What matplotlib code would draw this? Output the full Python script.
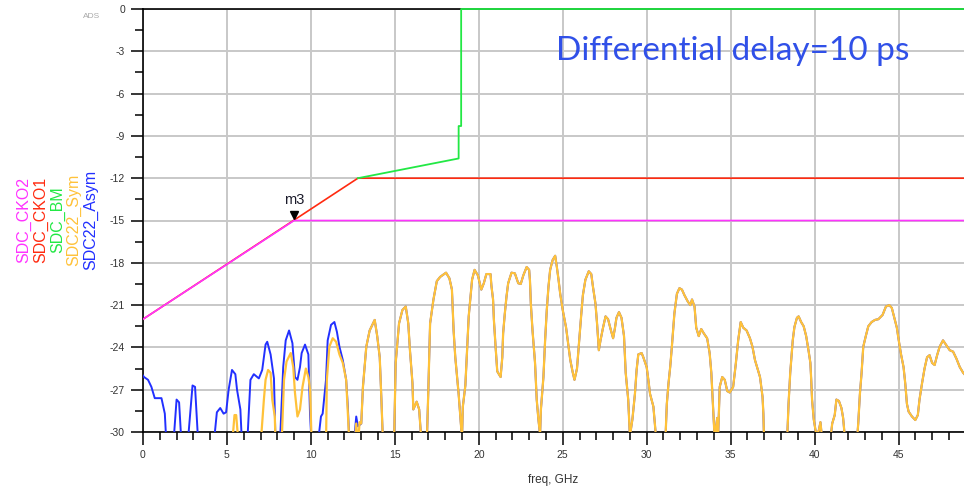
import matplotlib
matplotlib.use("Agg")
import matplotlib.pyplot as plt
import matplotlib.transforms as mtransforms
from matplotlib.ticker import MultipleLocator

plt.rcParams['axes.unicode_minus'] = False

# SDC22_Asym below 13 GHz (dB), values under -30 are clipped by the axis
asym_f_lo = [0.0, 0.06, 0.3, 0.5, 0.7, 1.1, 1.3, 1.4, 1.8, 2.0, 2.15, 2.3, 2.65, 2.95, 3.1, 3.3,
             4.2, 4.4, 4.6, 4.8, 4.95, 5.1, 5.3, 5.5, 5.6, 5.8, 5.9, 6.2, 6.4, 6.6, 6.9, 7.1,
             7.3, 7.4, 7.6, 7.8, 7.9, 8.15, 8.35, 8.5, 8.7, 8.9, 9.05, 9.2, 9.35, 9.45, 9.65,
             9.85, 9.95, 10.05, 10.4, 10.6, 10.7, 10.9, 11.0, 11.2, 11.4, 11.55, 11.7, 11.9,
             12.1, 12.2, 12.3, 12.55, 12.7, 12.8]
asym_db_lo = [-26.0, -26.1, -26.3, -26.8, -27.6, -27.6, -28.7, -31, -31, -27.7, -27.9, -31, -31,
              -26.7, -26.8, -31, -31, -28.6, -28.3, -28.7, -28.6, -27.0, -25.6, -25.9, -27.0,
              -28.4, -31, -31, -26.3, -25.9, -26.2, -25.6, -23.8, -23.6, -24.5, -26.2, -31, -31,
              -25.4, -23.5, -22.8, -23.7, -26.1, -26.3, -25.4, -24.4, -23.8, -24.5, -28.8, -31,
              -31, -28.9, -28.7, -26.3, -23.5, -22.4, -22.2, -22.9, -23.95, -24.9, -26.3, -28.2,
              -31, -31, -28.9, -29.6]

# SDC22_Sym below 13 GHz
sym_f_lo = [0.0, 5.3, 5.45, 5.55, 5.7, 7.0, 7.2, 7.3, 7.45, 7.6, 7.7, 7.85, 7.9, 8.25, 8.4, 8.55,
            8.8, 8.95, 9.05, 9.2, 9.35, 9.5, 9.7, 9.85, 9.95, 10.05, 10.9, 10.95, 11.1, 11.3,
            11.5, 11.7, 11.9, 12.1, 12.3, 12.6, 12.7, 12.8, 12.9]
sym_db_lo = [-31, -31, -28.8, -28.8, -31, -31, -27.7, -26.3, -25.6, -25.8, -27.7, -28.9, -31, -31,
             -26.3, -25.0, -24.4, -25.4, -27.2, -28.9, -28.4, -26.8, -25.5, -26.1, -27.0, -31,
             -31, -26.3, -23.95, -23.35, -23.6, -24.5, -25.1, -26.3, -31, -31, -29.4, -31, -29.3]

# above 13 GHz both traces coincide
common_f = [13.0, 13.1, 13.3, 13.5, 13.8, 13.95, 14.1, 14.2, 14.3, 14.95, 15.05, 15.25, 15.45,
            15.65, 15.8, 15.9, 16.05, 16.1, 16.3, 16.45, 16.6, 16.9, 17.0, 17.1, 17.3, 17.5, 17.7,
            18.05, 18.25, 18.4, 18.5, 18.6, 18.8, 18.9, 19.0, 19.05, 19.2, 19.4, 19.6, 19.75,
            19.95, 20.15, 20.3, 20.45, 20.7, 20.75, 20.85, 20.9, 21.0, 21.1, 21.3, 21.4, 21.45,
            21.55, 21.65, 21.75, 21.95, 22.15, 22.35, 22.5, 22.65, 22.85, 23.0, 23.05, 23.1, 23.2,
            23.35, 23.45, 23.55, 23.65, 23.7, 23.85, 23.95, 24.05, 24.15, 24.25, 24.4, 24.55,
            24.65, 24.75, 24.85, 25.0, 25.2, 25.3, 25.45, 25.6, 25.7, 25.85, 26.0, 26.1, 26.2,
            26.35, 26.55, 26.7, 26.8, 26.95, 27.05, 27.15, 27.25, 27.4, 27.55, 27.7, 27.85, 28.0,
            28.1, 28.2, 28.35, 28.5, 28.65, 28.75, 28.9, 29.0, 29.15, 29.3, 29.4, 29.5, 29.7,
            29.8, 30.0, 30.1, 30.2, 30.4, 30.6, 31.1, 31.2, 31.3, 31.4, 31.5, 31.65, 31.8, 31.95,
            32.1, 32.25, 32.45, 32.6, 32.7, 32.85, 32.95, 33.1, 33.25, 33.4, 33.6, 33.75, 33.85,
            33.95, 34.05, 34.2, 34.25, 34.35, 34.5, 34.65, 34.8, 34.95, 35.15, 35.3, 35.45, 35.6,
            35.75, 35.95, 36.15, 36.3, 36.45, 36.6, 36.75, 36.9, 36.95, 37.0, 38.35, 38.45, 38.55,
            38.7, 38.8, 38.95, 39.05, 39.2, 39.35, 39.5, 39.65, 39.75, 39.8, 39.85, 39.95, 40.1,
            40.25, 40.35, 40.45, 40.9, 41.05, 41.2, 41.3, 41.45, 41.6, 41.7, 41.85, 42.5, 42.6,
            42.7, 42.8, 42.9, 43.05, 43.2, 43.4, 43.6, 43.8, 44.05, 44.25, 44.45, 44.6, 44.75,
            44.9, 45.0, 45.15, 45.3, 45.4, 45.5, 45.6, 45.8, 46.0, 46.15, 46.25, 46.4, 46.55,
            46.7, 46.85, 47.0, 47.15, 47.3, 47.45, 47.65, 47.85, 48.05, 48.25, 48.45, 48.65,
            48.85, 49.0]
common_db = [-29.4, -26.8, -23.95, -22.8, -22.05, -23.2, -24.7, -27.7, -31, -31, -25.1, -22.3,
             -21.35, -21.1, -22.3, -24.2, -26.55, -28.4, -27.85, -28.4, -31, -31, -26.8, -22.3,
             -20.6, -19.3, -19.0, -18.7, -19.1, -19.9, -22.8, -24.7, -27.3, -28.9, -30.5, -28.2,
             -26.7, -21.8, -19.2, -18.5, -18.9, -19.9, -19.45, -18.8, -18.8, -19.6, -20.6, -22.05,
             -23.95, -25.7, -26.1, -24.7, -23.0, -21.6, -20.4, -19.45, -18.7, -18.75, -19.45,
             -19.5, -18.9, -18.3, -18.5, -19.3, -20.9, -22.8, -25.1, -27.7, -29.1, -30.2, -28.4,
             -26.1, -23.5, -21.35, -19.7, -18.5, -17.8, -17.5, -18.3, -19.2, -20.2, -21.35, -22.6,
             -23.5, -24.9, -25.8, -26.3, -25.5, -23.2, -21.7, -20.3, -19.2, -18.6, -18.8, -19.7,
             -20.9, -22.4, -24.2, -23.5, -22.6, -21.8, -22.0, -22.7, -23.35, -22.7, -21.9, -21.5,
             -21.9, -23.2, -25.8, -27.7, -30.3, -29.1, -27.3, -25.6, -24.5, -24.4, -24.7, -25.4,
             -26.3, -27.3, -28.2, -31, -31, -28.0, -26.55, -25.4, -23.95, -21.6, -20.2, -19.8,
             -19.9, -20.3, -20.75, -21.0, -20.6, -21.1, -22.6, -23.2, -22.7, -23.0, -23.35, -24.4,
             -25.8, -28.2, -30.5, -29.0, -30.5, -26.8, -26.1, -26.3, -27.1, -27.2, -26.8, -25.25,
             -23.5, -22.2, -22.6, -22.8, -23.35, -23.95, -24.9, -25.5, -26.1, -27.5, -28.7, -31,
             -31, -28.0, -25.8, -23.5, -22.55, -21.9, -21.8, -22.2, -22.5, -23.2, -24.3, -25.1,
             -26.3, -27.7, -29.1, -30.2, -29.9, -29.3, -30.5, -31, -29.4, -28.8, -27.7, -27.8,
             -28.3, -29.0, -31, -31, -29.4, -27.3, -25.8, -23.95, -23.2, -22.5, -22.2, -22.05,
             -22.0, -21.7, -21.1, -21.0, -21.2, -21.9, -22.6, -23.4, -24.5, -25.4, -26.55, -28.0,
             -28.55, -28.9, -29.15, -28.8, -27.7, -26.55, -25.5, -24.7, -24.55, -25.1, -25.25,
             -24.55, -23.95, -23.5, -23.85, -24.2, -24.3, -24.8, -25.4, -25.8, -26.0]

cko2_f = [0.0, 9.0, 49.0]
cko2_db = [-22.0, -15.0, -15.0]
cko1_f = [0.0, 12.8, 49.0]
cko1_db = [-22.0, -12.0, -12.0]
bm_f = [12.8, 18.8, 18.8, 18.95, 18.95, 49.0]
bm_db = [-12.0, -10.6, -8.3, -8.3, 0.0, 0.0]

m3_f, m3_db = 9.0, -15.0

c_cko2 = '#ff33ff'
c_cko1 = '#ff2a10'
c_bm = '#22e844'
c_sym = '#ffc23a'
c_asym = '#2230ff'
lbl_font = ['Liberation Sans Narrow', 'Liberation Sans', 'DejaVu Sans']

fig = plt.figure(figsize=(9.64, 4.87), dpi=100)
ax = fig.add_axes([143 / 964, 55 / 487, 821 / 964, 423 / 487])

ax.plot(asym_f_lo + common_f, asym_db_lo + common_db, color=c_asym, lw=1.4, zorder=3)
ax.plot(sym_f_lo + common_f, sym_db_lo + common_db, color=c_sym, lw=1.6, zorder=4)
ax.plot(cko1_f, cko1_db, color=c_cko1, lw=1.2, zorder=5)
ax.plot(cko2_f, cko2_db, color=c_cko2, lw=1.2, zorder=6)
ax.plot(bm_f, bm_db, color=c_bm, lw=1.3, zorder=5, clip_on=False)

# marker m3
mk_trans = mtransforms.offset_copy(ax.transData, fig=fig, x=0, y=4, units='points')
ax.plot([m3_f], [m3_db], marker='v', color='black', markersize=6, transform=mk_trans,
        zorder=7, clip_on=False)
ax.annotate('m3', (m3_f, m3_db), xytext=(0, 10), textcoords='offset points', ha='center',
            va='bottom', fontsize=10.5, color='#1a1a2a', family=lbl_font)

ax.set_xlim(0, 48.9)
ax.set_ylim(-30, 0)
ax.xaxis.set_major_locator(MultipleLocator(5))
ax.xaxis.set_minor_locator(MultipleLocator(1))
ax.yaxis.set_major_locator(MultipleLocator(3))
ax.yaxis.set_minor_locator(MultipleLocator(1.5))
ax.grid(True, which='major', color='#c8c8c8', lw=1.4)
ax.set_axisbelow(True)

for side in ['left', 'bottom', 'top']:
    ax.spines[side].set_color('black')
    ax.spines[side].set_linewidth(1.2)
ax.spines['right'].set_visible(False)
ax.tick_params(which='major', direction='out', length=9, width=1.1, labelsize=7.5,
               labelcolor='#333333', pad=4)
ax.tick_params(which='minor', direction='out', length=5.5, width=1.1)
for lab in ax.get_xticklabels() + ax.get_yticklabels():
    lab.set_family(lbl_font)

ax.set_xlabel('freq, GHz', fontsize=8.5, color='#333333', family=lbl_font, labelpad=10)

# rotated legend on the left
names = ['SDC_CKO2', 'SDC_CKO1', 'SDC_BM', 'SDC22_Sym', 'SDC22_Asym']
cols = [c_cko2, c_cko1, c_bm, c_sym, c_asym]
for i, (nm, cl) in enumerate(zip(names, cols)):
    fig.text((24 + i * 16.6) / 964, 1 - 220 / 487, nm, rotation=90, color=cl,
             fontsize=11.5, ha='center', va='center', family=lbl_font)

fig.text(92 / 964, 1 - 17 / 487, 'ADS', fontsize=6, color='#a8a8a8', ha='center',
         va='center', family=lbl_font)

fig.text(733 / 964, 1 - 51 / 487, 'Differential delay=10 ps', fontsize=24,
         color='#3050e8', ha='center', va='center', family=['Lato', 'DejaVu Sans'])

fig.savefig('out.png', dpi=100)
